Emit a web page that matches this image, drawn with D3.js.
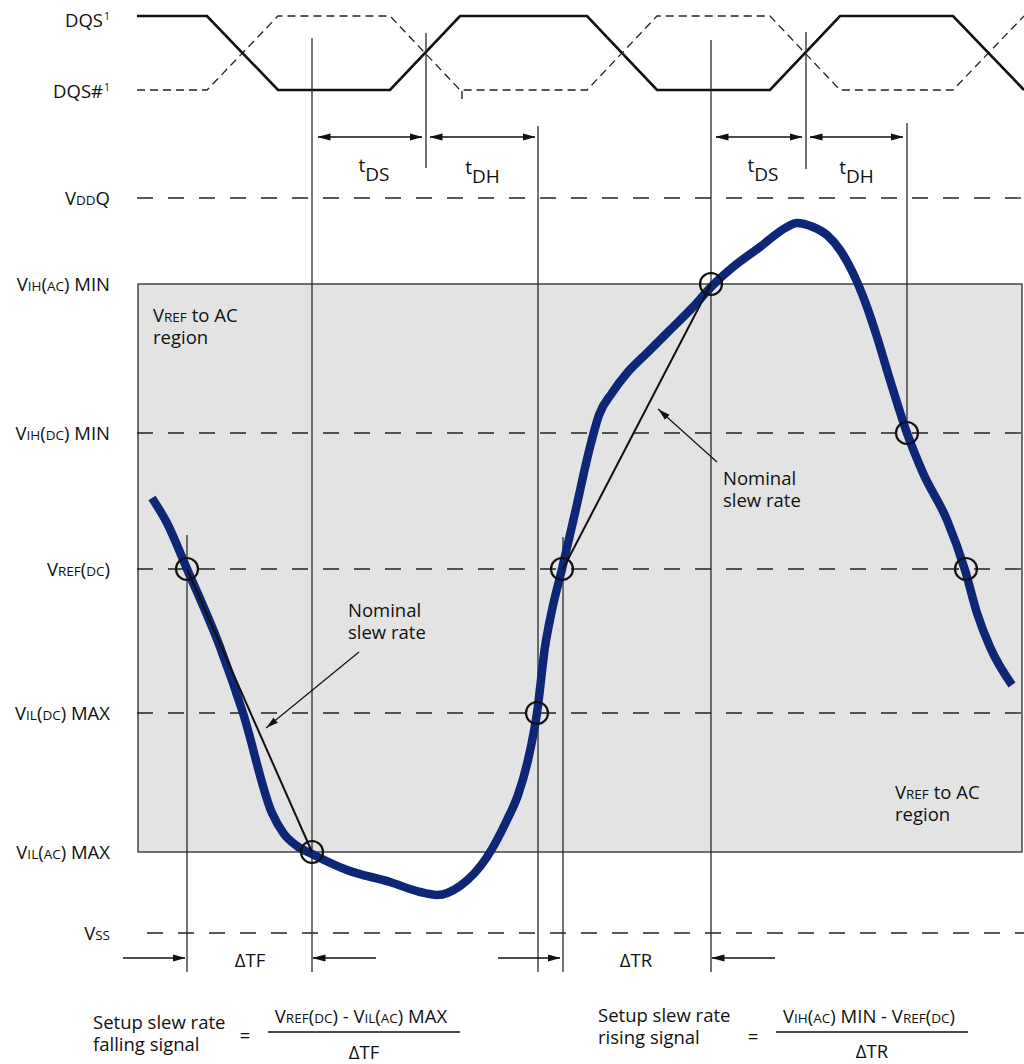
<!DOCTYPE html>
<html><head><meta charset="utf-8">
<script src="https://cdn.jsdelivr.net/npm/d3@7"></script>
<style>
body{margin:0;background:#fff}
svg{display:block}
text{font-family:"Open Sans","Noto Sans",sans-serif;fill:#111;font-size:18.5px}
</style>
</head><body><svg id="c" width="1024" height="1064"></svg>
<script>
// ---------------- data ----------------
// voltage levels (relative units above VSS)
const levelKeys   = ["VDDQ","VIH_AC","VIH_DC","VREF","VIL_DC","VIL_AC","VSS"];
const levelValues = [735, 649, 500, 364, 220, 81, 0];
// label parts: [text, style] style 0 = normal, 1 = small caps
const levelLabels = [
  [["V",0],["DD",1],["Q",0]],
  [["V",0],["IH",1],["(",0],["AC",1],[") MIN",0]],
  [["V",0],["IH",1],["(",0],["DC",1],[") MIN",0]],
  [["V",0],["REF",1],["(",0],["DC",1],[")",0]],
  [["V",0],["IL",1],["(",0],["DC",1],[") MAX",0]],
  [["V",0],["IL",1],["(",0],["AC",1],[") MAX",0]],
  [["V",0],["SS",1]]
];
// strobe (time units)
const strobeTimes  = [0,70,141,253,323,450,520,633,703,816,887];
const dqsStates    = [1,1,0,0,1,1,0,0,1,1,0];
const dqsBarStates = [0,0,1,1,0,0,1,1,0,0,1];
// data signal
const signalTimes  = [15,30,50,83,106,135,147,160,175,210,253,283,300,323,350,370,381,391,400,408,415,425,438,453,462,475,490,510,533,556,574,596,623,650,660,676,690,703,716,730,740,753,770,786,810,828,840,853,875];
const signalValues = [435,410,364,286,220,120,99,87,79,63,51,41,38,47,76,113,138,173,220,286,323,364,420,486,518,540,560,580,603,626,646,666,686,706,710,706,698,683,660,626,596,553,500,460,413,363,320,286,248];
// crossing points (circles)
const crossTimes  = [50,175,400,425,574,770,829];
const crossLevels = [364,81,220,364,649,500,364];
// vertical timing markers
const markerTimes  = [50,175,289,401,426,574,669,770];
const markerTop    = [398,895,900,807,396,893,901,810];
const markerBottom = [-39,-39,765,-39,-39,-39,764,500];
// tDS/tDH dimension arrows
const dimStarts = [181,293,579,673];
const dimEnds   = [285,398,665,766];
const dimSubs   = ["DS","DH","DS","DH"];
const dimLevel  = 796;
// ΔT dimension
const deltaLabels = ["\u0394TF","\u0394TR"];
const deltaLeft   = [48,423];
const deltaRight  = [176,575];
const deltaLevel  = -25;
// nominal slew rate lines
const slewFrom = [[50,364],[426,364]];
const slewTo   = [[175,81],[574,649]];

// ---------------- scales ----------------
const W = 1024, H = 1064;
const FS = 18.5, SM = 13.5, LH = 22;
const x = d3.scaleLinear().domain([0,887]).range([137,1024]);
const y = d3.scaleLinear().domain([0,735]).range([933,198]);
const yS = d3.scaleLinear().domain([0,1]).range([90,16]);
const lv = k => levelValues[levelKeys.indexOf(k)];

const svg = d3.select("#c");
const defs = svg.append("defs");
defs.append("marker").attr("id","ah").attr("viewBox","0 -5 13 10")
  .attr("markerUnits","userSpaceOnUse").attr("markerWidth",13).attr("markerHeight",10)
  .attr("refX",12.5).attr("refY",0).attr("orient","auto-start-reverse")
  .append("path").attr("d","M0,-3.6L13,0L0,3.6Z").attr("fill","#111");
defs.append("marker").attr("id","ah2").attr("viewBox","0 -5 13 10")
  .attr("markerUnits","userSpaceOnUse").attr("markerWidth",13).attr("markerHeight",10)
  .attr("refX",12.5).attr("refY",0).attr("orient","auto")
  .append("path").attr("d","M0,-3.4L12,0L0,3.4Z").attr("fill","#111");

function rich(sel, parts, big, small){
  parts.forEach(([t,s])=>{
    const ts = sel.append("tspan").text(t);
    if(s===1) ts.style("font-size", small+"px");
  });
  sel.style("font-size", big+"px");
  return sel;
}

// gray region
svg.append("rect")
  .attr("x", x(0)+1).attr("y", y(lv("VIH_AC")))
  .attr("width", x(885)-x(0)-1).attr("height", y(lv("VIL_AC"))-y(lv("VIH_AC")))
  .attr("fill","#e3e3e3").attr("stroke","#2a2a2a").attr("stroke-width",1.3);

// dashed level lines
const dashed = ["VDDQ","VIH_DC","VREF","VIL_DC","VSS"];
dashed.forEach(k=>{
  svg.append("line")
    .attr("x1", k==="VSS" ? x(10) : x(0)).attr("x2", W)
    .attr("y1", y(lv(k))).attr("y2", y(lv(k)))
    .attr("stroke","#222").attr("stroke-width",1.3).attr("stroke-dasharray","16,15");
});

// left labels
levelKeys.forEach((k,i)=>{
  const t = svg.append("text").attr("x",110).attr("y", y(levelValues[i])+7).attr("text-anchor","end");
  rich(t, levelLabels[i], FS, SM);
});

// strobe labels
rich(svg.append("text").attr("x",103).attr("y",yS(1)+11).attr("text-anchor","end"), [["DQS",0]], FS, SM);
svg.append("text").attr("x",104).attr("y",yS(1)+4).style("font-size","10.5px").text("1");
rich(svg.append("text").attr("x",103).attr("y",yS(0)+8).attr("text-anchor","end"), [["DQS#",0]], FS, SM);
svg.append("text").attr("x",104).attr("y",yS(0)+1).style("font-size","10.5px").text("1");

// strobes
const sLine = d3.line().x(d=>x(d[0])).y(d=>yS(d[1]));
svg.append("path").attr("d", sLine(strobeTimes.map((t,i)=>[t,dqsBarStates[i]])))
  .attr("fill","none").attr("stroke","#222").attr("stroke-width",1.3).attr("stroke-dasharray","8,5");
svg.append("path").attr("d", sLine(strobeTimes.map((t,i)=>[t,dqsStates[i]])))
  .attr("fill","none").attr("stroke","#111").attr("stroke-width",2.6).attr("stroke-linejoin","miter");
// small tick artifact near DQS#
svg.append("line").attr("x1",x(325)).attr("x2",x(325)).attr("y1",yS(0)+1).attr("y2",yS(0)+9)
  .attr("stroke","#222").attr("stroke-width",1.4);

// vertical markers
markerTimes.forEach((t,i)=>{
  svg.append("line").attr("x1",x(t)).attr("x2",x(t))
    .attr("y1",y(markerTop[i])).attr("y2",y(markerBottom[i]))
    .attr("stroke","#2a2a2a").attr("stroke-width",1.3);
});

// tDS / tDH arrows
dimStarts.forEach((s,i)=>{
  svg.append("line").attr("x1",x(s)).attr("x2",x(dimEnds[i]))
    .attr("y1",y(dimLevel)).attr("y2",y(dimLevel))
    .attr("stroke","#111").attr("stroke-width",1.4)
    .attr("marker-start","url(#ah)").attr("marker-end","url(#ah)");
  const cx = (x(s)+x(dimEnds[i]))/2 + (i%2===0?4:0);
  const off = i%2===0 ? 0 : 2;
  const g = svg.append("text").attr("x",cx).attr("y",y(dimLevel)+44+off).attr("text-anchor","middle").style("font-size","19px");
  g.append("tspan").text("t").attr("dy",-9);
  g.append("tspan").text(dimSubs[i]).attr("dy",9);
});

// ΔT arrows
deltaLabels.forEach((lab,i)=>{
  const yy = y(deltaLevel);
  svg.append("line").attr("x1",x(deltaLeft[i])-62).attr("x2",x(deltaLeft[i]))
    .attr("y1",yy).attr("y2",yy).attr("stroke","#111").attr("stroke-width",1.4)
    .attr("marker-end","url(#ah)");
  svg.append("line").attr("x1",x(deltaRight[i])+63).attr("x2",x(deltaRight[i]))
    .attr("y1",yy).attr("y2",yy).attr("stroke","#111").attr("stroke-width",1.4)
    .attr("marker-end","url(#ah)");
  svg.append("text").attr("x",(x(deltaLeft[i])+x(deltaRight[i]))/2+ (i===0?1:0)).attr("y",yy+9)
    .attr("text-anchor","middle").text(lab);
});

// data signal
svg.append("path")
  .attr("d", d3.line().curve(d3.curveMonotoneX).x(d=>x(d[0])).y(d=>y(d[1]))(signalTimes.map((t,i)=>[t,signalValues[i]])))
  .attr("fill","none").attr("stroke","#0e2676").attr("stroke-width",8.5).attr("stroke-linejoin","round").attr("stroke-linecap","butt");

// nominal slew lines
slewFrom.forEach((f,i)=>{
  svg.append("line").attr("x1",x(f[0])).attr("y1",y(f[1])).attr("x2",x(slewTo[i][0])).attr("y2",y(slewTo[i][1]))
    .attr("stroke","#111").attr("stroke-width",2);
});

// circles
crossTimes.forEach((t,i)=>{
  svg.append("circle").attr("cx",x(t)).attr("cy",y(crossLevels[i])).attr("r",11)
    .attr("fill","none").attr("stroke","#111").attr("stroke-width",2.2);
});

// nominal slew annotations
const annot = [
  {tx:348, ty:617, from:[222,281], to:[129,205]},
  {tx:723, ty:485, from:[580,471], to:[521,524]}
];
annot.forEach(a=>{
  const t = svg.append("text");
  t.append("tspan").attr("x",a.tx).attr("y",a.ty).text("Nominal");
  t.append("tspan").attr("x",a.tx).attr("y",a.ty+LH).text("slew rate");
  svg.append("line").attr("x1",x(a.from[0])).attr("y1",y(a.from[1])).attr("x2",x(a.to[0])).attr("y2",y(a.to[1]))
    .attr("stroke","#111").attr("stroke-width",1.2).attr("marker-end","url(#ah2)");
});

// region labels
[[153,322],[895,799]].forEach(([tx,ty])=>{
  const t = svg.append("text").attr("x",tx).attr("y",ty);
  t.append("tspan").text("V");
  t.append("tspan").text("REF").style("font-size",SM+"px");
  t.append("tspan").text(" to AC");
  svg.append("text").attr("x",tx).attr("y",ty+LH).text("region");
});

// formulas
const formulas = [
  {lx:93, l1:"Setup slew rate", l2:"falling signal", ly:1029, eqx:245, eqy:1042,
   x1:268, x2:460, ny:1023, fy:1032, dy:1059,
   num:[["V",0],["REF",1],["(",0],["DC",1],[") - V",0],["IL",1],["(",0],["AC",1],[") MAX",0]], den:deltaLabels[0]},
  {lx:598, l1:"Setup slew rate", l2:"rising signal", ly:1022, eqx:753, eqy:1043,
   x1:776, x2:968, ny:1023, fy:1032, dy:1058,
   num:[["V",0],["IH",1],["(",0],["AC",1],[") MIN - V",0],["REF",1],["(",0],["DC",1],[")",0]], den:deltaLabels[1]}
];
formulas.forEach(f=>{
  svg.append("text").attr("x",f.lx).attr("y",f.ly).text(f.l1);
  svg.append("text").attr("x",f.lx).attr("y",f.ly+LH).text(f.l2);
  svg.append("text").attr("x",f.eqx).attr("y",f.eqy).attr("text-anchor","middle").text("=");
  rich(svg.append("text").attr("x",(f.x1+f.x2)/2-3).attr("y",f.ny).attr("text-anchor","middle"), f.num, FS, SM);
  svg.append("line").attr("x1",f.x1).attr("x2",f.x2).attr("y1",f.fy).attr("y2",f.fy).attr("stroke","#111").attr("stroke-width",1.3);
  svg.append("text").attr("x",(f.x1+f.x2)/2).attr("y",f.dy).attr("text-anchor","middle").text(f.den);
});
</script>
</body></html>
